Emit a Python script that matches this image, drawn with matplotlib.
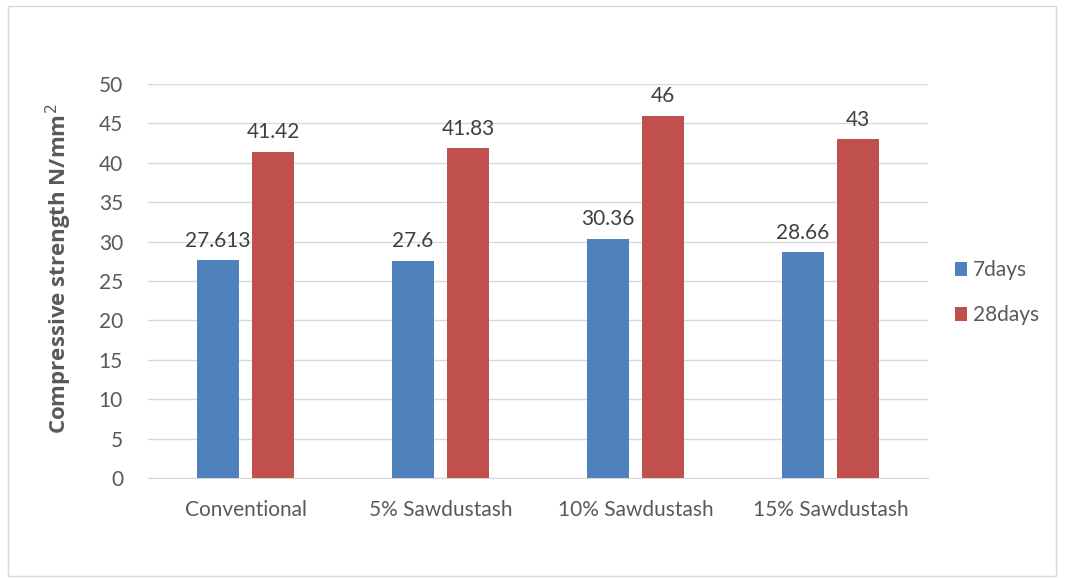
import numpy as np
import matplotlib
matplotlib.use("Agg")
import matplotlib.pyplot as plt
from matplotlib.patches import Rectangle

plt.rcParams['font.family'] = ['Lato', 'DejaVu Sans']

# data
categories = ['Conventional', '5% Sawdustash', '10% Sawdustash', '15% Sawdustash']
days7 = [27.613, 27.6, 30.36, 28.66]
days28 = [41.42, 41.83, 46, 43]
labels7 = ['27.613', '27.6', '30.36', '28.66']
labels28 = ['41.42', '41.83', '46', '43']

blue = '#4F81BD'
red = '#C0504D'
txt = '#595959'

fig = plt.figure(figsize=(10.66, 5.78), dpi=100)
# outer chart border
fig.patches.append(Rectangle((8/1066, 2/578), 1048/1066, 570/578, transform=fig.transFigure,
                             fill=False, edgecolor='#D9D9D9', linewidth=1))

ax = fig.add_axes([148/1066, 1 - 478/578, 780/1066, (478-84)/578])

x = np.arange(len(categories))
w = 0.22
off = 0.141
b1 = ax.bar(x - off, days7, w, color=blue, label='7days', zorder=3)
b2 = ax.bar(x + off, days28, w, color=red, label='28days', zorder=3)

for rect, lab in zip(b1, labels7):
    ax.text(rect.get_x() + rect.get_width()/2, rect.get_height() + 1.2, lab,
            ha='center', va='bottom', fontsize=15, color='#404040')
for rect, lab in zip(b2, labels28):
    ax.text(rect.get_x() + rect.get_width()/2, rect.get_height() + 1.2, lab,
            ha='center', va='bottom', fontsize=15, color='#404040')

ax.set_xlim(-0.5, 3.5)
ax.set_ylim(0, 50)
ax.set_yticks(range(0, 51, 5))
ax.yaxis.grid(True, color='#D9D9D9', linewidth=1, zorder=0)
ax.set_xticks(x)
ax.set_xticklabels(categories)
ax.tick_params(axis='both', length=0, labelsize=15, colors=txt)
ax.tick_params(axis='x', pad=16)
ax.tick_params(axis='y', pad=18)
for s in ['top', 'right', 'left']:
    ax.spines[s].set_visible(False)
ax.spines['bottom'].set_color('#D9D9D9')

ax.set_ylabel('Compressive strength N/mm$^2$', fontsize=16, fontweight='bold',
              family=['Open Sans', 'DejaVu Sans'], color=txt, labelpad=10)
ax.yaxis.set_label_coords(-0.095, 0.53)

ax.legend(loc='center left', bbox_to_anchor=(1.01, 0.47), frameon=False, fontsize=15,
          handlelength=0.6, handleheight=0.6, labelspacing=1.2, handletextpad=0.3,
          labelcolor=txt)

fig.savefig('out.png', dpi=100)
